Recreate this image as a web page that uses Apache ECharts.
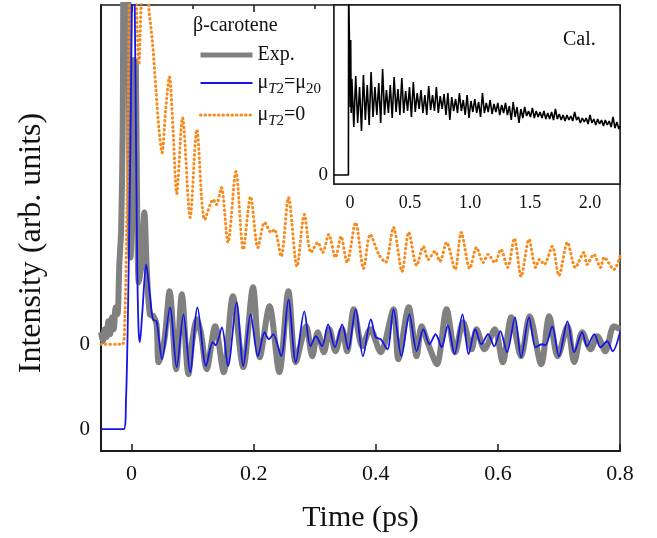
<!DOCTYPE html>
<html><head><meta charset="utf-8">
<script src="https://cdn.jsdelivr.net/npm/echarts@6/dist/echarts.min.js"></script>
<style>html,body{margin:0;padding:0;background:#fff}#c{width:657px;height:538px}</style>
</head><body><div id="c"></div>
<script>
// ---- tick positions / labels ----
const mainXTicks = [0, 0.2, 0.4, 0.6, 0.8];
const mainXMinor = [0.1, 0.3, 0.5, 0.7];
const mainYZeros = [0, 85];          // two offset baselines, both labelled "0"
const insetXTicks = [0, 0.5, 1, 1.5, 2];
const insetXMinor = [0.25, 0.75, 1.25, 1.75];

// ---- series names ----
const nameExp = 'Exp.';
const nameFull = 'μT2=μ20';
const nameZero = 'μT2=0';

// ---- Exp. (gray) ----
const expT = [-0.05,-0.047,-0.044,-0.041,-0.038,-0.035,-0.032,-0.029,-0.026,-0.023,-0.020,-0.017,-0.0145,-0.012,-0.007,-0.003,-0.0015,0.001,0.004,0.007,0.0095,0.012,0.016,0.021,0.025,0.030,0.036,0.041,0.0444,0.054,0.0623,0.0732,0.0824,0.0932,0.100,0.107,0.114,0.123,0.137,0.151,0.166,0.183,0.199,0.210,0.226,0.242,0.257,0.269,0.286,0.296,0.305,0.315,0.324,0.334,0.345,0.353,0.364,0.378,0.391,0.408,0.429,0.437,0.454,0.467,0.475,0.486,0.500,0.516,0.530,0.543,0.557,0.565,0.578,0.595,0.608,0.622,0.638,0.652,0.671,0.684,0.698,0.714,0.725,0.738,0.752,0.763,0.776,0.790,0.800];
const expV = [97,88,100,92,108,95,112,100,122,115,165,200,300,480,480,220,172,250,370,365,200,147,165,217,160,115,113,105,67,90,138,60,135,55,90,110,95,60,103,57,133,62,142,72,123,57,138,67,103,73,97,77,100,78,100,78,120,83,100,77,120,70,122,73,103,85,65,120,77,107,80,100,80,100,67,112,73,113,65,113,73,103,67,97,80,93,78,103,100];

// ---- μT2=μ20 (blue) ----
const fullT = [-0.05,-0.0125,-0.009,-0.0064,-0.0038,-0.0016,0.0005,0.003,0.006,0.009,0.0115,0.0136,0.018,0.024,0.030,0.035,0.041,0.050,0.063,0.074,0.085,0.096,0.108,0.122,0.133,0.138,0.148,0.158,0.172,0.183,0.195,0.207,0.218,0.225,0.232,0.245,0.257,0.269,0.283,0.293,0.302,0.312,0.322,0.333,0.345,0.355,0.367,0.379,0.392,0.400,0.408,0.419,0.429,0.442,0.455,0.467,0.478,0.488,0.498,0.508,0.518,0.529,0.542,0.552,0.563,0.573,0.584,0.594,0.604,0.615,0.628,0.638,0.651,0.662,0.672,0.678,0.689,0.700,0.714,0.725,0.738,0.746,0.758,0.768,0.779,0.788,0.800];
const fullV = [0,0,30,97,197,297,413,520,380,180,100,87,120,165,135,110,108,70,122,62,115,57,122,63,87,84,102,63,127,63,115,73,97,90,95,73,130,67,118,83,93,83,105,82,105,80,120,73,110,92,90,80,120,73,115,78,100,85,95,82,104,75,115,75,100,85,95,83,98,77,112,72,112,82,85,84,103,73,108,77,97,83,95,82,88,78,97];

// ---- μT2=0 (orange dotted) ----
const zeroT = [-0.05,-0.015,-0.011,-0.008,-0.005,-0.002,0.004,0.008,0.012,0.016,0.022,0.028,0.034,0.040,0.045,0.050,0.056,0.062,0.068,0.074,0.0835,0.096,0.107,0.120,0.134,0.139,0.147,0.158,0.171,0.183,0.195,0.207,0.218,0.229,0.234,0.245,0.257,0.271,0.283,0.294,0.305,0.313,0.323,0.334,0.343,0.353,0.367,0.380,0.391,0.405,0.416,0.429,0.443,0.454,0.467,0.478,0.486,0.497,0.505,0.516,0.530,0.540,0.554,0.565,0.576,0.584,0.595,0.605,0.616,0.627,0.638,0.651,0.662,0.668,0.676,0.689,0.700,0.714,0.727,0.741,0.746,0.757,0.768,0.774,0.790,0.800];
const zeroV = [85,85,110,200,350,520,560,430,365,430,520,425,390,340,300,277,320,353,300,236,312,212,300,210,230,225,242,187,258,180,233,182,207,197,200,173,232,163,215,177,187,177,195,172,193,167,207,161,195,175,167,202,158,197,164,183,170,178,168,187,160,197,161,182,167,175,167,180,162,191,153,190,162,170,165,183,154,187,162,177,165,175,162,172,160,173];

// ---- inset "Cal." (black) ----
const calT = [-0.133,-0.013,-0.011,0.000,0.003,0.006,0.010,
0.016,0.032,0.048,0.064,0.080,0.096,0.112,0.128,0.144,0.160,
0.176,0.192,0.208,0.224,0.240,0.256,0.272,0.288,0.304,0.320,
0.336,0.352,0.368,0.384,0.400,0.416,0.432,0.448,0.464,0.480,
0.496,0.512,0.528,0.544,0.560,0.576,0.592,0.608,0.624,0.640,
0.656,0.672,0.688,0.704,0.720,0.736,0.752,0.768,0.784,0.800,
0.816,0.832,0.848,0.864,0.880,0.896,0.912,0.928,0.944,0.960,
0.976,0.992,1.008,1.024,1.040,1.056,1.072,1.088,1.104,1.120,
1.136,1.152,1.168,1.184,1.200,1.216,1.232,1.248,1.264,1.280,
1.296,1.312,1.328,1.344,1.360,1.376,1.392,1.408,1.424,1.440,
1.456,1.472,1.488,1.504,1.520,1.536,1.552,1.568,1.584,1.600,
1.616,1.632,1.648,1.664,1.680,1.696,1.712,1.728,1.744,1.760,
1.776,1.792,1.808,1.824,1.840,1.856,1.872,1.888,1.904,1.920,
1.936,1.952,1.968,1.984,2.000,2.016,2.032,2.048,2.064,2.080,
2.096,2.112,2.128,2.144,2.160,2.176,2.192,2.208,2.224,2.240,2.250];
const calV = [0,0,190,190,68,135,62,
96,48,99,52,88,44,100,55,90,50,
103,58,88,60,92,52,106,60,85,62,
90,57,98,63,86,60,97,62,84,64,
88,58,93,63,82,66,85,62,80,60,
89,65,80,64,88,62,79,66,81,60,
82,55,78,64,76,62,82,64,75,60,
80,57,74,63,76,62,73,58,82,62,
72,63,75,61,71,63,72,60,70,62,
72,60,69,55,73,58,68,52,66,57,
68,59,64,58,67,57,64,58,63,57,
64,56,62,56,63,55,66,56,61,55,
60,54,60,55,59,54,63,55,58,52,
57,53,57,51,60,52,56,50,56,51,
55,49,55,50,54,48,58,47,53,46,49];

const zip = (t, v) => t.map((x, i) => [x, v[i]]);
const SERIF = 'Liberation Serif';
const INK = '#111';
const fmtTick = v => (v === 0 ? '0' : v.toFixed(1));

function tickAxis(grid, min, max, values, len, width, extra) {
  return Object.assign({
    gridIndex: grid, type: 'value', min: min, max: max,
    axisLine: {show: false, onZero: false},
    axisTick: {show: true, inside: true, length: len, customValues: values, lineStyle: {color: '#1a1a1a', width: width}},
    axisLabel: {show: false}, splitLine: {show: false}
  }, extra || {});
}

const chart = echarts.init(document.getElementById('c'), null, {renderer: 'canvas'});
const option = {
  animation: false,
  backgroundColor: '#fff',
  textStyle: {fontFamily: SERIF, color: INK},
  grid: [
    {left: 101, right: 37, top: 5, bottom: 86, show: true, borderColor: '#1a1a1a', borderWidth: 1.5},
    {left: 334, right: 37, top: 5, bottom: 354, show: true, borderColor: '#1a1a1a', borderWidth: 1.5, backgroundColor: '#fff', z: 5}
  ],
  xAxis: [
    {gridIndex: 0, type: 'value', min: -0.05, max: 0.8,
     name: 'Time (ps)', nameLocation: 'middle', nameGap: 52,
     nameTextStyle: {fontFamily: SERIF, fontSize: 30, color: INK},
     axisLine: {show: true, onZero: false, lineStyle: {color: '#1a1a1a', width: 2}},
     axisTick: {show: true, inside: true, length: 7, customValues: mainXTicks, lineStyle: {color: '#1a1a1a', width: 1.5}},
     axisLabel: {customValues: mainXTicks, formatter: fmtTick, fontFamily: SERIF, fontSize: 22, color: INK, margin: 12},
     splitLine: {show: false}},
    tickAxis(0, -0.05, 0.8, mainXTicks, 7, 1.5),
    tickAxis(0, -0.05, 0.8, mainXMinor, 4, 1.5),
    {gridIndex: 1, type: 'value', min: -0.133, max: 2.25,
     axisLine: {show: true, onZero: false, lineStyle: {color: '#1a1a1a', width: 1.5}},
     axisTick: {show: true, inside: true, length: 6, customValues: insetXTicks, lineStyle: {color: '#1a1a1a', width: 1.2}},
     axisLabel: {customValues: insetXTicks, formatter: fmtTick, fontFamily: SERIF, fontSize: 18, color: INK, margin: 10},
     splitLine: {show: false}},
    tickAxis(1, -0.133, 2.25, insetXTicks, 6, 1.2),
    tickAxis(1, -0.133, 2.25, insetXMinor, 3, 1.2)
  ],
  yAxis: [
    {gridIndex: 0, type: 'value', min: -22, max: 425,
     name: 'Intensity (arb. units)', nameLocation: 'middle', nameGap: 53, nameRotate: 90,
     nameTextStyle: {fontFamily: SERIF, fontSize: 32, color: INK, padding: [0, 30, 0, 0]},
     axisLine: {show: true, onZero: false, lineStyle: {color: '#1a1a1a', width: 2}},
     axisTick: {show: false},
     axisLabel: {customValues: mainYZeros, formatter: () => '0', fontFamily: SERIF, fontSize: 21, color: INK, margin: 11},
     splitLine: {show: false}},
    {gridIndex: 1, type: 'value', min: -9, max: 170,
     axisLine: {show: true, onZero: false, lineStyle: {color: '#1a1a1a', width: 1.5}},
     axisTick: {show: false},
     axisLabel: {customValues: [0], formatter: () => '0', fontFamily: SERIF, fontSize: 19, color: INK, margin: 6},
     splitLine: {show: false}}
  ],
  legend: {
    orient: 'vertical', left: 193, top: 40, itemWidth: 52, itemHeight: 14, itemGap: 8,
    itemStyle: {opacity: 0},
    data: [
      {name: nameExp, lineStyle: {width: 5}},
      {name: nameFull, lineStyle: {width: 2}},
      {name: nameZero, lineStyle: {width: 3}}
    ],
    formatter: n => n === nameExp ? '{n|Exp.}' : (n === nameFull ? '{n|μ}{si|T}{s|2}{n|=μ}{s|20}' : '{n|μ}{si|T}{s|2}{n|=0}'),
    textStyle: {fontFamily: SERIF, fontSize: 20, color: INK,
      rich: {
        n: {fontFamily: SERIF, fontSize: 20, color: INK, lineHeight: 26},
        s: {fontFamily: SERIF, fontSize: 15, color: INK, padding: [13, 0, 0, 0]},
        si: {fontFamily: SERIF, fontSize: 15, fontStyle: 'italic', color: INK, padding: [13, 0, 0, 0]}
      }}
  },
  graphic: [
    {type: 'text', left: 193, top: 16, style: {text: 'β-carotene', font: '20px "Liberation Serif"', fill: INK}},
    {type: 'text', left: 563, top: 30, z: 10, style: {text: 'Cal.', font: '20px "Liberation Serif"', fill: INK}}
  ],
  series: [
    {name: nameExp, type: 'line', xAxisIndex: 0, yAxisIndex: 0, data: zip(expT, expV),
     symbol: 'none', smooth: 0.3, clip: true,
     lineStyle: {color: '#808080', width: 6}, itemStyle: {color: '#808080'}, z: 2},
    {name: nameZero, type: 'line', xAxisIndex: 0, yAxisIndex: 0, data: zip(zeroT, zeroV),
     symbol: 'none', smooth: 0.3, clip: true,
     lineStyle: {color: '#f88a1c', width: 3, type: [0.5, 4], cap: 'round'}, itemStyle: {color: '#f88a1c'}, z: 3},
    {name: nameFull, type: 'line', xAxisIndex: 0, yAxisIndex: 0, data: zip(fullT, fullV),
     symbol: 'none', smooth: 0.3, clip: true,
     lineStyle: {color: '#1414e6', width: 1.8}, itemStyle: {color: '#1414e6'}, z: 4},
    {name: 'Cal.', type: 'line', xAxisIndex: 3, yAxisIndex: 1, data: zip(calT, calV),
     symbol: 'none', clip: true,
     lineStyle: {color: '#000', width: 1.6}, itemStyle: {color: '#000'}, z: 6}
  ]
};
chart.setOption(option);
</script>
</body></html>
